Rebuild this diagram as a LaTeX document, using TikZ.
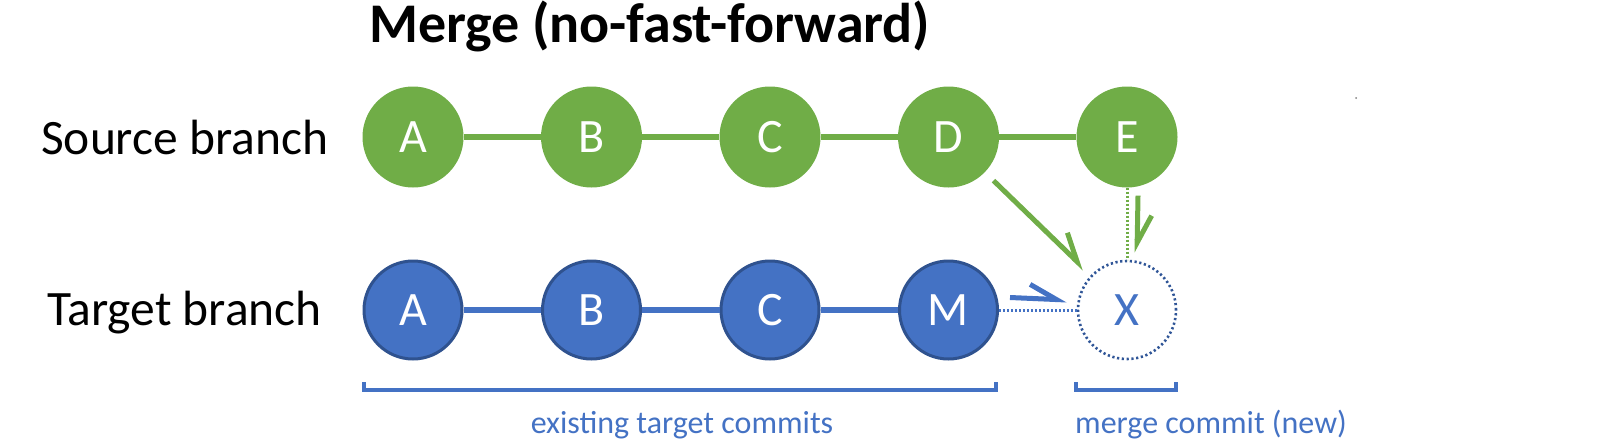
\documentclass[tikz,border=0pt]{standalone}
\usepackage{fontspec}
\setmainfont{Carlito}
\usetikzlibrary{arrows.meta,calc}
\definecolor{cgreen}{HTML}{70AD47}
\definecolor{cblue}{HTML}{4472C4}
\definecolor{cborder}{HTML}{2F528F}
\definecolor{cdot}{HTML}{2F5597}
\tikzset{
  gcommit/.style={circle,fill=cgreen,minimum size=101pt,inner sep=0pt,text=white,font=\fontsize{48}{52}\selectfont},
  bcommit/.style={circle,fill=cblue,draw=cborder,line width=3pt,minimum size=98pt,inner sep=0pt,text=white,font=\fontsize{48}{52}\selectfont},
  newcommit/.style={circle,draw=cdot,line width=2.6pt,dash pattern=on 2.2pt off 2.6pt,minimum size=98pt,inner sep=0pt,text=cblue,font=\fontsize{48}{52}\selectfont},
  gline/.style={cgreen,line width=6pt},
  bline/.style={cblue,line width=5.5pt},
  gdots/.style={cgreen,line width=3pt,dash pattern=on 2.4pt off 1.6pt},
  bdots/.style={cblue,line width=3pt,dash pattern=on 2.4pt off 1.6pt},
  barbarrow/.style={line width=5pt,-{Straight Barb[harpoon,length=27pt,width=28pt,line width=5pt]}},
  brace/.style={cblue,line width=4pt},
  branchlbl/.style={anchor=base west,inner sep=0pt,font=\fontsize{49.5}{53}\selectfont},
  smalllbl/.style={anchor=base,inner sep=0pt,text=cblue,font=\fontsize{32}{36}\selectfont},
}
\begin{document}
\begin{tikzpicture}[x=1pt,y=-1pt]
\useasboundingbox (0,0) rectangle (1600,447);
% title
\node[anchor=base west,inner sep=0pt,font=\bfseries\fontsize{56}{60}\selectfont] (title) at (369,42) {Merge (no-fast-forward)};
% branch labels
\node[branchlbl] (src) at (41,154) {Source branch};
\node[branchlbl] (tgt) at (47,325) {Target branch};
% source commits
\node[gcommit] (sA) at (413,137) {A};
\node[gcommit] (sB) at (591.5,137) {B};
\node[gcommit] (sC) at (770,137) {C};
\node[gcommit] (sD) at (948.5,137) {D};
\node[gcommit] (sE) at (1127,137) {E};
% target commits
\node[bcommit] (tA) at (413,310) {A};
\node[bcommit] (tB) at (591.5,310) {B};
\node[bcommit] (tC) at (770,310) {C};
\node[bcommit] (tM) at (948.5,310) {M};
\node[newcommit] (X) at (1127,310) {X};
% lines
\draw[gline] (sA) -- (sB) (sB) -- (sC) (sC) -- (sD) (sD) -- (sE);
\draw[bline] (tA.east) -- (tB.west) (tB.east) -- (tC.west) (tC.east) -- (tM.west);
% dotted links
\draw[bdots] (tM.east) -- (X.west);
\draw[gdots] (sE.south) -- (X.north);
% arrows
\draw[barbarrow,cgreen,shorten <=12pt,shorten >=9pt] (sD) -- (X);
\coordinate (eA) at ($(sE.south)+(11,8)$);
\coordinate (eB) at ($(X.north)+(10,-7)$);
\draw[barbarrow,cgreen] (eA) -- (eB);
\coordinate (mA) at ($(tM.east)+(11,-12.5)$);
\coordinate (mB) at ($(X.west)+(-10,-10)$);
\draw[barbarrow,cblue] (mA) -- (mB);
% brackets
\coordinate (b1) at (364,382);
\coordinate (b2) at (996,382);
\draw[brace] (b1) -- ++(0,8) -| (b2);
\coordinate (b3) at (1075.5,382);
\coordinate (b4) at (1176,382);
\draw[brace] (b3) -- ++(0,8) -| (b4);
% bracket labels
\node[smalllbl] (l1) at (682,433) {existing target commits};
\node[smalllbl,anchor=base west] (l2) at (1075,433) {merge commit (new)};
% stray dot
\fill[gray] (1356,98) circle (1pt);
\end{tikzpicture}
\end{document}
